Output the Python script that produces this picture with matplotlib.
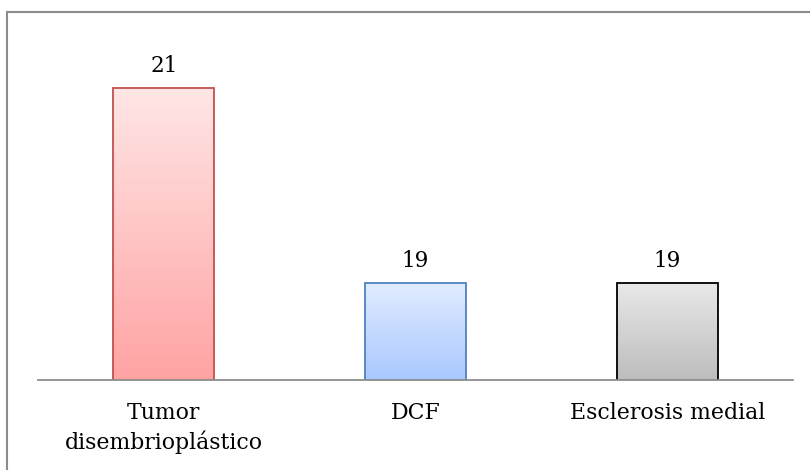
import numpy as np
import matplotlib.pyplot as plt
from matplotlib.colors import LinearSegmentedColormap
from matplotlib.patches import Rectangle

categorias = ["Tumor\ndisembrioplástico", "DCF", "Esclerosis medial"]
valores = [21, 19, 19]
arriba = ["#FFE6E6", "#E2ECFF", "#E9E9E9"]
abajo = ["#FFA3A3", "#A9C8FF", "#BDBDBD"]
bordes = ["#C0504D", "#4F81BD", "#000000"]

plt.rcParams['font.family'] = ['DejaVu Serif']

fig = plt.figure(figsize=(8.1, 4.7), dpi=100)
fig.patches.append(Rectangle((7 / 810, -0.1), 1.2, 1 - 12 / 470 + 0.1, transform=fig.transFigure,
                             fill=False, edgecolor="#8c8c8c", lw=1.5))
ax = fig.add_axes([38 / 810, 90 / 470, 755 / 810, 341 / 470])

x = np.arange(len(categorias))
barras = ax.bar(x, valores, width=0.4, bottom=0, color="none", edgecolor=bordes, lw=1.3, zorder=3)
ax.set_xlim(-0.5, 2.5)
ax.set_ylim(18, 21.5)

# degradado vertical dentro de cada barra
grad = np.linspace(0, 1, 256).reshape(-1, 1)
for b, c1, c2 in zip(barras, arriba, abajo):
    cmap = LinearSegmentedColormap.from_list("g", [c2, c1])
    x0 = b.get_x()
    im = ax.imshow(grad, cmap=cmap, aspect="auto", origin="lower",
                   extent=[x0, x0 + b.get_width(), 18, b.get_height()], zorder=2)
    im.set_clip_path(b)
    ax.text(b.get_x() + b.get_width() / 2, b.get_height() + 0.11, str(int(b.get_height())),
            ha="center", va="bottom", fontsize=15.5)

for s in ["top", "right", "left"]:
    ax.spines[s].set_visible(False)
ax.spines["bottom"].set_color("#8c8c8c")
ax.spines["bottom"].set_linewidth(1.3)
ax.spines["bottom"].set_zorder(4)
ax.set_yticks([])
ax.set_xticks(x)
ax.set_xticklabels(categorias, fontsize=15.8, linespacing=1.35)
ax.tick_params(axis="x", length=0, pad=16)

plt.savefig("out.png")
